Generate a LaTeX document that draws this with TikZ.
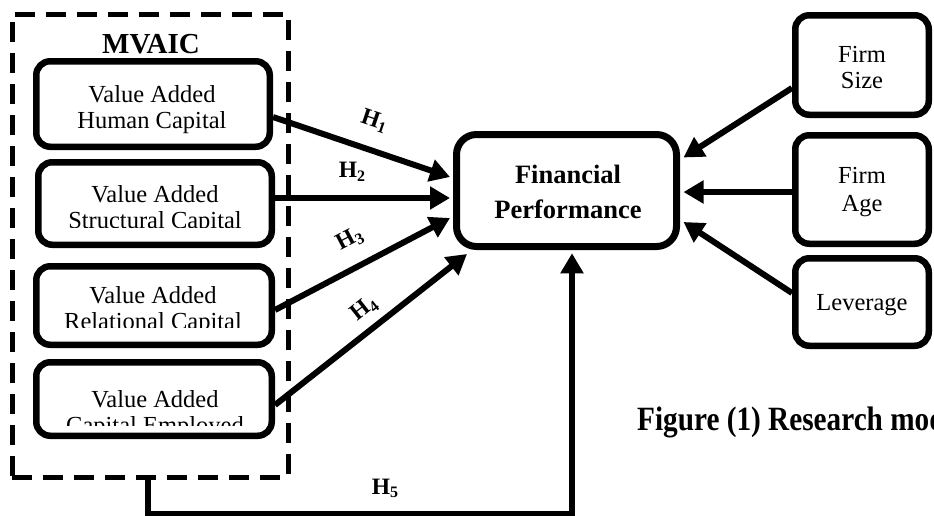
\documentclass[tikz,border=0pt]{standalone}
\usepackage{fontspec}
\setmainfont{Liberation Serif}
\usetikzlibrary{arrows.meta}
\newcommand{\hyp}[1]{H\raisebox{-0.35ex}{\fontsize{16}{16}\selectfont #1}}
\begin{document}
\begin{tikzpicture}[x=1pt,y=-1pt,
  box/.style={draw, line width=6.5pt, rounded corners=14pt, inner sep=0pt},
  txt/.style={font=\fontsize{24.5}{27}\selectfont, anchor=base, inner sep=0pt},
  btxt/.style={font=\bfseries\fontsize{26.5}{29}\selectfont, anchor=base, inner sep=0pt},
  conn/.style={line width=6pt, -{Triangle[length=20pt,width=22pt]}},
  hlab/.style={font=\bfseries\fontsize{23.5}{25}\selectfont, inner sep=0pt}
]
\useasboundingbox (0,0) rectangle (934,515);
\clip (0,0) rectangle (934,515);

% dashed group
\node[draw, line width=5pt, dash pattern=on 20pt off 11pt, minimum width=276pt, minimum height=463pt, inner sep=0pt] (mv) at (150,245.5) {};
\node[font=\bfseries\fontsize{29}{31}\selectfont, anchor=base, inner sep=0pt] (mvl) at (151,53) {MVAIC};

% left boxes
\node[box, minimum width=233.5pt, minimum height=85.5pt] (hc) at (153,104) {};
\node[box, minimum width=233.5pt, minimum height=82.5pt] (sc) at (155,203.5) {};
\node[box, minimum width=235.5pt, minimum height=78.5pt] (rc) at (154,305.5) {};
\node[box, minimum width=235.5pt, minimum height=73.5pt] (ce) at (154,399) {};

\node[txt] (hc1) at (152,102) {Value Added};
\node[txt] (hc2) at (152,128) {Human Capital};
\begin{scope}
\clip (40,160) rectangle (270,227);
\node[txt] (sc1) at (155,202) {Value Added};
\node[txt] (sc2) at (155,228) {Structural Capital};
\end{scope}
\begin{scope}
\clip (40,265) rectangle (270,327);
\node[txt] (rc1) at (153,303) {Value Added};
\node[txt] (rc2) at (153,329) {Relational Capital};
\end{scope}
\begin{scope}
\clip (40,365) rectangle (270,425);
\node[txt] (ce1) at (155,407) {Value Added};
\node[txt] (ce2) at (155,433) {Capital Employed};
\end{scope}

% central box
\node[box, rounded corners=20pt, line width=7pt, minimum width=220pt, minimum height=112pt] (fp) at (566.5,190.5) {};
\node[btxt] (fp1) at (568,183) {Financial};
\node[btxt] (fp2) at (568,218) {Performance};

% right boxes
\node[box, minimum width=133.5pt, minimum height=99.5pt] (fs) at (862,65) {};
\node[box, minimum width=133.5pt, minimum height=108.5pt] (fa) at (862,189.5) {};
\node[box, minimum width=133.5pt, minimum height=87.5pt] (lv) at (862,302) {};
\node[txt] (fs1) at (862,62) {Firm};
\node[txt] (fs2) at (862,88) {Size};
\node[txt] (fa1) at (862,183) {Firm};
\node[txt] (fa2) at (862,211) {Age};
\node[txt] (lv1) at (862,310) {Leverage};

% hypotheses connectors
\draw[conn] ([yshift=-13pt]hc.east) -- ([xshift=-3pt,yshift=13.5pt]fp.west)
  node[hlab, pos=0.52, sloped, above=16pt] (h1) {\hyp{1}};
\draw[conn] ([yshift=5.5pt]sc.east) -- ([xshift=-3pt,yshift=-7.5pt]fp.west)
  node[hlab, pos=0.44, above=14pt] (h2) {\hyp{2}};
\draw[conn] ([yshift=-4.5pt]rc.east) -- ([xshift=-3pt,yshift=-27.5pt]fp.west)
  node[hlab, pos=0.5, sloped, above=15pt] (h3) {\hyp{3}};
\draw[conn] ([yshift=-6pt]ce.east) -- ([xshift=14pt,yshift=-4pt]fp.south west)
  node[hlab, pos=0.53, sloped, above=8pt] (h4) {\hyp{4}};
\draw[line width=6pt, -{Triangle[length=20pt,width=22pt]}] ([xshift=-2pt]mv.south) -- ++(0,34) -| ([xshift=5.5pt,yshift=-3.25pt]fp.south);
\node[hlab, anchor=base] (h5) at (385,494) {\hyp{5}};

% control connectors
\draw[conn] ([yshift=-23pt]fs.west) -- ([xshift=3.5pt,yshift=33pt]fp.east);
\draw[conn] ([yshift=-2.5pt]fa.west) -- ([xshift=3.5pt,yshift=-1.5pt]fp.east);
\draw[conn] ([yshift=9pt]lv.west) -- ([xshift=3.5pt,yshift=-31.5pt]fp.east);

% caption
\node[anchor=base west, inner sep=0pt] (cap) at (637,430) {\scalebox{0.86}[1]{\bfseries\fontsize{34}{34}\selectfont Figure (1) Research model}};
\end{tikzpicture}
\end{document}
